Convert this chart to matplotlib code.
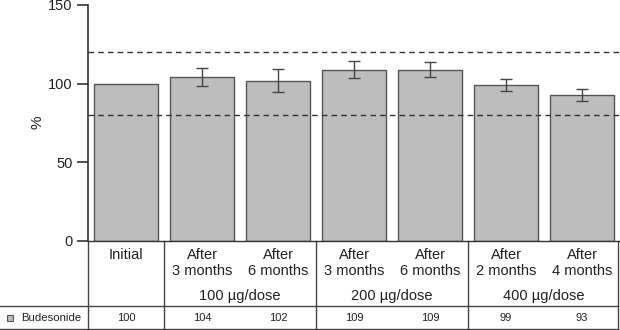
import matplotlib
matplotlib.use("Agg")
import matplotlib.pyplot as plt
import matplotlib.transforms as mtransforms

plt.rcParams['font.family'] = ['Liberation Sans', 'DejaVu Sans']

categories = ["Initial", "After\n3 months", "After\n6 months", "After\n3 months",
              "After\n6 months", "After\n2 months", "After\n4 months"]
values = [100, 104, 102, 109, 109, 99, 93]
errors = [0, 5.7, 7.6, 5.4, 4.8, 3.8, 3.8]
table_values = ["100", "104", "102", "109", "109", "99", "93"]
groups = ["100 µg/dose", "200 µg/dose", "400 µg/dose"]
group_spans = [(1, 2), (3, 4), (5, 6)]
limits = [80, 120]
series_name = "Budesonide"

W, H = 620, 330
fig = plt.figure(figsize=(W / 100, H / 100), dpi=100)
ax = fig.add_axes([88 / W, (H - 241) / H, (620 - 88) / W, (241 - 5) / H])

txt = "#222222"
x = list(range(len(values)))
ax.bar(x, values, width=0.83, color="#bdbdbd", edgecolor="#555555", linewidth=1.0, zorder=2)
for xi, v, e in zip(x, values, errors):
    if e > 0:
        ax.errorbar(xi, v, yerr=e, fmt="none", ecolor="#444444", elinewidth=1.0,
                    capsize=4, capthick=1.0, zorder=3)
for l in limits:
    ax.axhline(l, color="#333333", linestyle=(0, (4, 3)), linewidth=1.0, zorder=4)

ax.set_xlim(-0.5, 6.5)
ax.set_ylim(0, 150)
ax.set_yticks([0, 50, 100, 150])
ax.tick_params(axis="y", length=8, width=1.2, colors="#333333", labelcolor=txt, labelsize=10.5, pad=3)
ax.set_xticks([])
for s in ["top", "right"]:
    ax.spines[s].set_visible(False)
ax.spines["left"].set_color("#333333")
ax.spines["left"].set_linewidth(1.2)
ax.spines["bottom"].set_color("#333333")
ax.spines["bottom"].set_linewidth(1.0)
ax.set_ylabel("%", fontsize=11, color=txt)
ax.yaxis.set_label_coords((44 - 88) / 532, (241 - 122) / 236)

# table
tr = mtransforms.blended_transform_factory(ax.transData, fig.transFigure)
def fy(p):
    return 1 - p / H
lc = "#444444"
for xv in [-0.5, 0.5, 2.5, 4.5, 6.47]:
    ax.plot([xv, xv], [fy(241), fy(329)], color=lc, lw=1.0, transform=tr, clip_on=False)
fig.add_artist(plt.Line2D([0, 618 / W], [fy(306), fy(306)], color=lc, lw=1.0, transform=fig.transFigure))
fig.add_artist(plt.Line2D([0, 618 / W], [fy(329), fy(329)], color=lc, lw=1.0, transform=fig.transFigure))

for xi, c in zip(x, categories):
    ax.text(xi, fy(248), c, transform=tr, ha="center", va="top", fontsize=10.5,
            color=txt, linespacing=1.15)
for g, (a, b) in zip(groups, group_spans):
    ax.text((a + b) / 2, fy(296), g, transform=tr, ha="center", va="center",
            fontsize=10.5, color=txt)
for xi, t in zip(x, table_values):
    ax.text(xi, fy(318), t, transform=tr, ha="center", va="center", fontsize=8, color=txt)

fig.text(21 / W, fy(318), series_name, ha="left", va="center", fontsize=8.2, color=txt)
fig.patches.append(plt.Rectangle((7 / W, fy(321)), 6 / W, 6 / H, transform=fig.transFigure,
                                 facecolor="#bdbdbd", edgecolor="#555555", lw=0.8, figure=fig))

fig.savefig("out.png", dpi=100)
